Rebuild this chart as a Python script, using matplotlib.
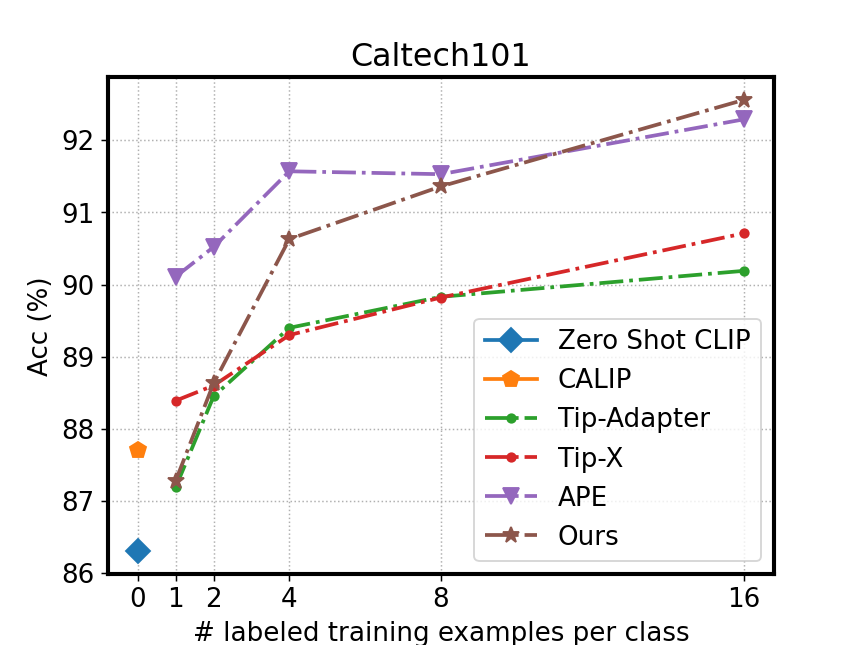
import matplotlib
matplotlib.use("Agg")
import matplotlib.pyplot as plt

shots = [1, 2, 4, 8, 16]
zero_shot_clip = [86.30]
calip = [87.71]
tip_adapter = [87.19, 88.45, 89.40, 89.83, 90.19]
tip_x = [88.39, 88.60, 89.30, 89.82, 90.71]
ape = [90.11, 90.52, 91.57, 91.53, 92.29]
ours = [87.28, 88.63, 90.63, 91.36, 92.56]
xticks = [0, 1, 2, 4, 8, 16]

plt.rcParams['font.size'] = 14

fig, ax = plt.subplots(figsize=(6.4, 4.8), dpi=134.4)

ax.plot([0], zero_shot_clip, marker='D', markersize=9, linewidth=2, label='Zero Shot CLIP')
ax.plot([0], calip, marker='p', markersize=9, linewidth=2, label='CALIP')
ax.plot(shots, tip_adapter, marker='.', markersize=9, linestyle='-.', linewidth=2, label='Tip-Adapter')
ax.plot(shots, tip_x, marker='.', markersize=9, linestyle='-.', linewidth=2, label='Tip-X')
ax.plot(shots, ape, marker='v', markersize=9, linestyle='-.', linewidth=2, label='APE')
ax.plot(shots, ours, marker='*', markersize=9, linestyle='-.', linewidth=2, label='Ours')

ax.set_xticks(xticks)
ax.set_title('Caltech101', fontsize=17)
ax.set_xlabel('# labeled training examples per class')
ax.set_ylabel('Acc (%)')
ax.grid(True, linestyle=':')
for s in ax.spines.values():
    s.set_linewidth(2.2)
ax.legend(loc='lower right')

plt.savefig('out.png')
